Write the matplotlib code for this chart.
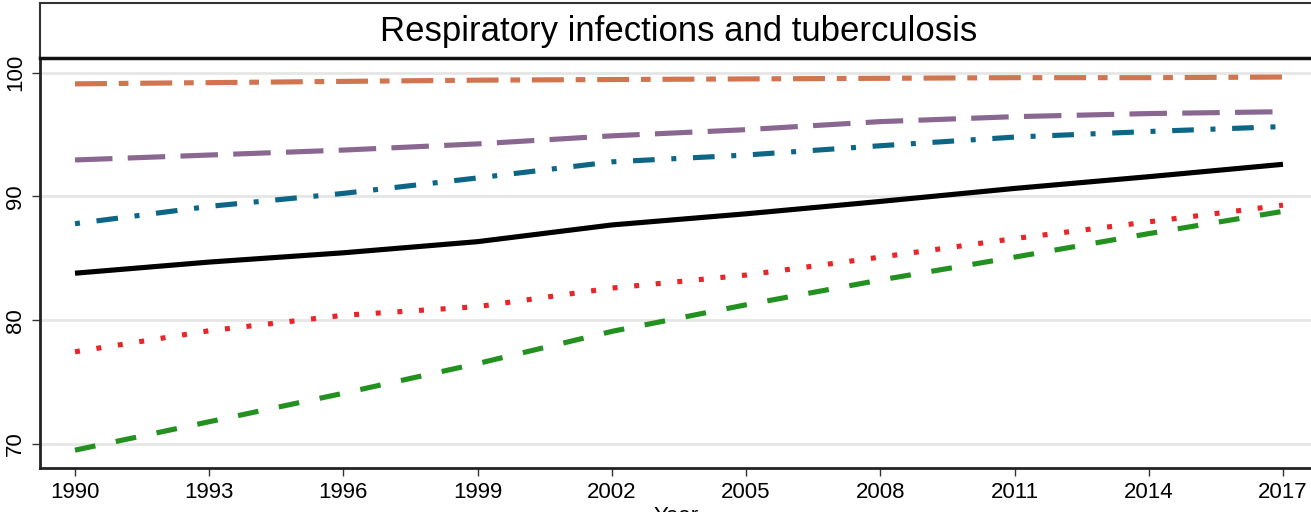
"""
Trend plot: respiratory infections and tuberculosis, 1990-2017.
"""

import matplotlib

matplotlib.use("Agg")

import matplotlib.pyplot as plt

plt.rcParams["font.family"] = ["Liberation Sans", "DejaVu Sans"]
plt.rcParams["lines.scale_dashes"] = False

years = [1990, 1993, 1996, 1999, 2002, 2005, 2008, 2011, 2014, 2017]

orange_vals = [99.1, 99.2, 99.3, 99.4, 99.45, 99.5, 99.55, 99.6, 99.6, 99.65]
purple_vals = [92.95, 93.35, 93.75, 94.25, 94.9, 95.4, 96.05, 96.45, 96.7, 96.85]
teal_vals = [87.8, 89.2, 90.25, 91.5, 92.8, 93.35, 94.1, 94.8, 95.25, 95.65]
black_vals = [83.8, 84.7, 85.45, 86.35, 87.7, 88.6, 89.6, 90.65, 91.6, 92.6]
red_vals = [77.45, 79.15, 80.4, 81.1, 82.6, 83.65, 85.1, 86.6, 87.95, 89.3]
green_vals = [69.5, 71.8, 74.1, 76.5, 79.1, 81.25, 83.25, 85.1, 87.0, 88.8]

x_ticks = [1990, 1993, 1996, 1999, 2002, 2005, 2008, 2011, 2014, 2017]
y_ticks = [70, 80, 90, 100]

title_text = "Respiratory infections and tuberculosis"

W, H = 1311, 512
fig = plt.figure(figsize=(W / 100, H / 100), dpi=100, facecolor="white")

left = 40 / W
ax = fig.add_axes([left, (H - 468) / H, 1.0 - left, (468 - 58) / H])

lw = 3.7
series = [
    (orange_vals, "#D17550", (0, (23, 8.5, 7, 8.5))),
    (purple_vals, "#8A6790", (0, (27, 11))),
    (teal_vals, "#0E6687", (0, (3.6, 12, 15.6, 12))),
    (black_vals, "black", "solid"),
    (red_vals, "#E8262A", (0, (3.6, 12))),
    (green_vals, "#22911F", (0, (15, 15))),
]
for vals, color, style in series:
    ax.plot(years, vals, color=color, linestyle=style, linewidth=lw,
            solid_capstyle="butt", dash_capstyle="butt")

ax.set_xlim(1989.218, 2017.626)
ax.set_ylim(68.06, 101.19)
ax.set_xticks(x_ticks)
ax.set_yticks(y_ticks)
ax.set_yticklabels([str(v) for v in y_ticks], rotation=90, va="center")
ax.tick_params(axis="both", labelsize=16, length=6, width=1, color="#333333",
               direction="out", pad=4)
ax.grid(axis="y", color="#E6E6E6", linewidth=2)
ax.set_axisbelow(True)

for side in ("top", "right"):
    ax.spines[side].set_visible(False)
for side in ("left", "bottom"):
    ax.spines[side].set_linewidth(2)
    ax.spines[side].set_color("#222222")

# title strip above the plot
tax = fig.add_axes([left, (H - 58) / H, 1.0 - left + 0.01, (58 - 3) / H])
tax.set_xticks([])
tax.set_yticks([])
tax.spines["right"].set_visible(False)
for side in ("left", "top"):
    tax.spines[side].set_linewidth(1.5)
    tax.spines[side].set_color("#333333")
tax.spines["bottom"].set_linewidth(2.5)
tax.spines["bottom"].set_color("#111111")
fig.text(679 / W, (H - 32) / H, title_text, ha="center", va="center",
         fontsize=25)

# x label, mostly cut off by the bottom edge as in the source figure
fig.text(676 / W, (H - 506) / H, "Year", ha="center", va="top", fontsize=16)

fig.savefig("out.png", dpi=100, facecolor="white")
